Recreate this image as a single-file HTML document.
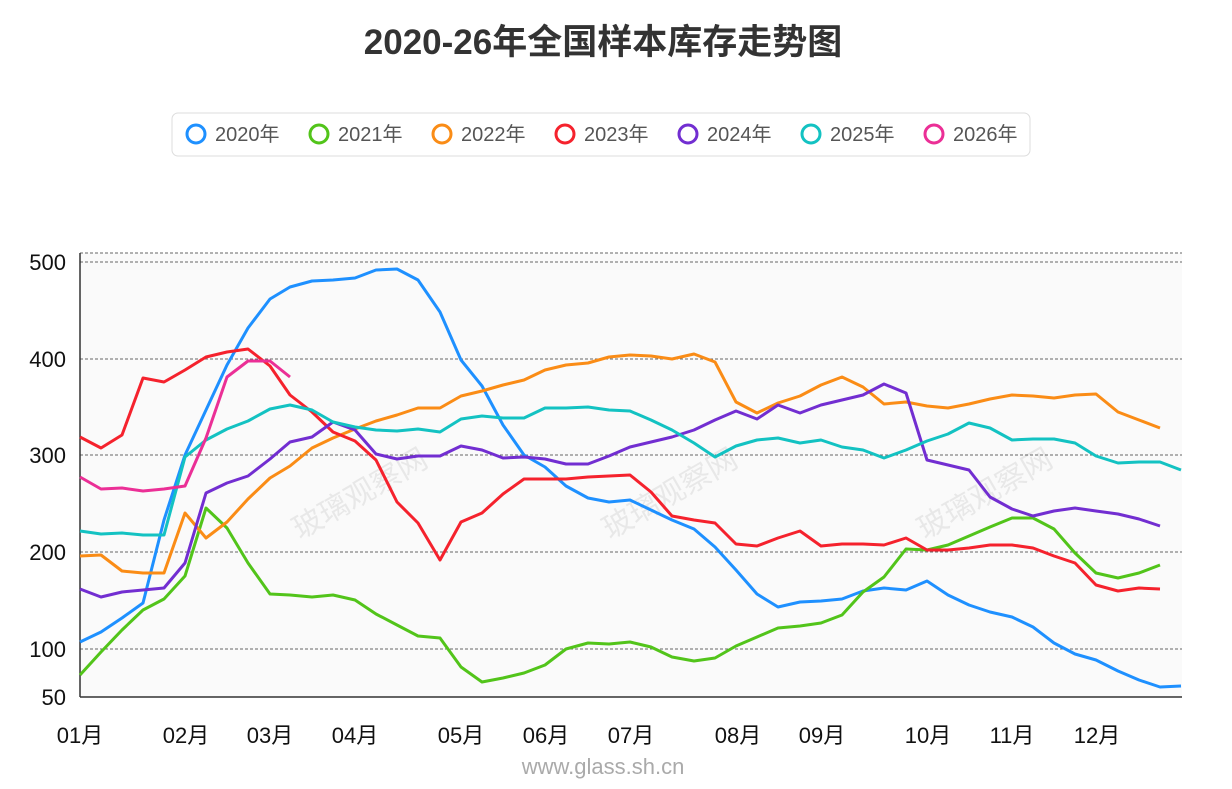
<!DOCTYPE html>
<html><head><meta charset="utf-8"><style>
body{margin:0;background:#fff;width:1232px;height:784px;overflow:hidden;font-family:"Liberation Sans","Noto Sans CJK SC",sans-serif;}
</style></head><body>
<svg width="1232" height="784" xmlns="http://www.w3.org/2000/svg" font-family="Liberation Sans, Noto Sans CJK SC, sans-serif">
<rect x="80" y="253" width="1102" height="444" fill="#fafafa"/>
<text x="603" y="54" text-anchor="middle" font-size="35" font-weight="bold" fill="#333">2020-26年全国样本库存走势图</text>
<rect x="172" y="113" width="858" height="43" rx="6" fill="#fff" stroke="#ddd"/>
<g font-size="20" fill="#555" stroke-width="3" fill-opacity="1">
<circle cx="196" cy="134" r="9" fill="none" stroke="#1e90ff"/><text x="215" y="141" fill="#555">2020年</text>
<circle cx="319" cy="134" r="9" fill="none" stroke="#52c41a"/><text x="338" y="141" fill="#555">2021年</text>
<circle cx="442" cy="134" r="9" fill="none" stroke="#fa8c16"/><text x="461" y="141" fill="#555">2022年</text>
<circle cx="565" cy="134" r="9" fill="none" stroke="#f5222d"/><text x="584" y="141" fill="#555">2023年</text>
<circle cx="688" cy="134" r="9" fill="none" stroke="#722ed1"/><text x="707" y="141" fill="#555">2024年</text>
<circle cx="811" cy="134" r="9" fill="none" stroke="#13c2c2"/><text x="830" y="141" fill="#555">2025年</text>
<circle cx="934" cy="134" r="9" fill="none" stroke="#eb2f96"/><text x="953" y="141" fill="#555">2026年</text>
</g>
<g stroke="#666" stroke-dasharray="3,2" stroke-width="1">
<line x1="80" y1="253" x2="1182" y2="253"/><line x1="80" y1="262" x2="1182" y2="262"/>
<line x1="80" y1="359" x2="1182" y2="359"/><line x1="80" y1="455" x2="1182" y2="455"/>
<line x1="80" y1="552" x2="1182" y2="552"/><line x1="80" y1="649" x2="1182" y2="649"/>
</g>
<line x1="80" y1="253" x2="80" y2="697" stroke="#333" stroke-width="1.5"/>
<line x1="80" y1="697" x2="1182" y2="697" stroke="#333" stroke-width="1.5"/>
<g font-size="22" fill="#111" text-anchor="end">
<text x="66" y="270">500</text><text x="66" y="367">400</text><text x="66" y="463">300</text><text x="66" y="560">200</text><text x="66" y="657">100</text><text x="66" y="705">50</text>
</g>
<g font-size="22" fill="#111" text-anchor="middle">
<text x="80" y="743">01月</text><text x="186" y="743">02月</text><text x="270" y="743">03月</text><text x="355" y="743">04月</text><text x="461" y="743">05月</text><text x="546" y="743">06月</text><text x="631" y="743">07月</text><text x="738" y="743">08月</text><text x="822" y="743">09月</text><text x="928" y="743">10月</text><text x="1012" y="743">11月</text><text x="1097" y="743">12月</text>
</g>
<g font-size="30" fill="#000" fill-opacity="0.07">
<text transform="translate(300,540) rotate(-30)">玻璃观察网</text>
<text transform="translate(610,540) rotate(-30)">玻璃观察网</text>
<text transform="translate(925,540) rotate(-30)">玻璃观察网</text>
</g>
<g fill="none" stroke-width="3" stroke-linejoin="round">
<polyline stroke="#1e90ff" points="80,642 101,632 122,618 143,603 164,520 185,455 206,410 227,365 248,328 270,299 290,287 312,281 333,280 355,278 376,270 397,269 418,280 440,312 461,360 482,386 503,425 524,455 545,467 566,486 588,498 609,502 630,500 651,510 672,520 694,529 715,547 736,570 757,594 778,607 800,602 821,601 842,599 863,591 884,588 906,590 927,581 948,595 969,605 990,612 1012,617 1033,627 1054,643 1075,654 1096,660 1118,671 1139,680 1160,687 1181,686"/>
<polyline stroke="#52c41a" points="80,675 101,652 122,630 143,610 164,599 185,576 206,508 227,528 248,563 270,594 290,595 312,597 333,595 355,600 376,614 397,625 418,636 440,638 461,667 482,682 503,678 524,673 545,665 566,649 588,643 609,644 630,642 651,647 672,657 694,661 715,658 736,646 757,637 778,628 800,626 821,623 842,615 863,592 884,577 906,549 927,550 948,545 969,536 990,527 1012,518 1033,518 1054,529 1075,553 1096,573 1118,578 1139,573 1160,565"/>
<polyline stroke="#fa8c16" points="80,556 101,555 122,571 143,573 164,573 185,513 206,538 227,522 248,499 270,478 290,466 312,448 333,438 355,429 376,421 397,415 418,408 440,408 461,396 482,391 503,385 524,380 545,370 566,365 588,363 609,357 630,355 651,356 672,359 694,354 715,362 736,402 757,413 778,403 800,396 821,385 842,377 863,387 884,404 906,402 927,406 948,408 969,404 990,399 1012,395 1033,396 1054,398 1075,395 1096,394 1118,412 1139,420 1160,428"/>
<polyline stroke="#f5222d" points="80,437 101,448 122,435 143,378 164,382 185,370 206,357 227,352 248,349 270,366 290,395 312,412 333,432 355,441 376,460 397,502 418,523 440,560 461,522 482,513 503,494 524,479 545,479 566,479 588,477 609,476 630,475 651,492 672,516 694,520 715,523 736,544 757,546 778,538 800,531 821,546 842,544 863,544 884,545 906,538 927,550 948,550 969,548 990,545 1012,545 1033,548 1054,556 1075,563 1096,585 1118,591 1139,588 1160,589"/>
<polyline stroke="#722ed1" points="80,589 101,597 122,592 143,590 164,588 185,563 206,493 227,483 248,476 270,459 290,442 312,437 333,422 355,430 376,454 397,459 418,456 440,456 461,446 482,450 503,458 524,457 545,459 566,464 588,464 609,456 630,447 651,442 672,437 694,430 715,420 736,411 757,419 778,405 800,413 821,405 842,400 863,395 884,384 906,393 927,460 948,465 969,470 990,497 1012,509 1033,516 1054,511 1075,508 1096,511 1118,514 1139,519 1160,526"/>
<polyline stroke="#13c2c2" points="80,531 101,534 122,533 143,535 164,535 185,457 206,440 227,429 248,421 270,409 290,405 312,410 333,422 355,427 376,430 397,431 418,429 440,432 461,419 482,416 503,418 524,418 545,408 566,408 588,407 609,410 630,411 651,420 672,430 694,443 715,457 736,446 757,440 778,438 800,443 821,440 842,447 863,450 884,458 906,450 927,441 948,434 969,423 990,428 1012,440 1033,439 1054,439 1075,443 1096,456 1118,463 1139,462 1160,462 1181,470"/>
<polyline stroke="#eb2f96" points="80,477 101,489 122,488 143,491 164,489 185,486 206,438 227,377 248,361 270,361 290,377"/>
</g>
<text x="603" y="774" text-anchor="middle" font-size="22" fill="#aaa">www.glass.sh.cn</text>
</svg>
</body></html>
